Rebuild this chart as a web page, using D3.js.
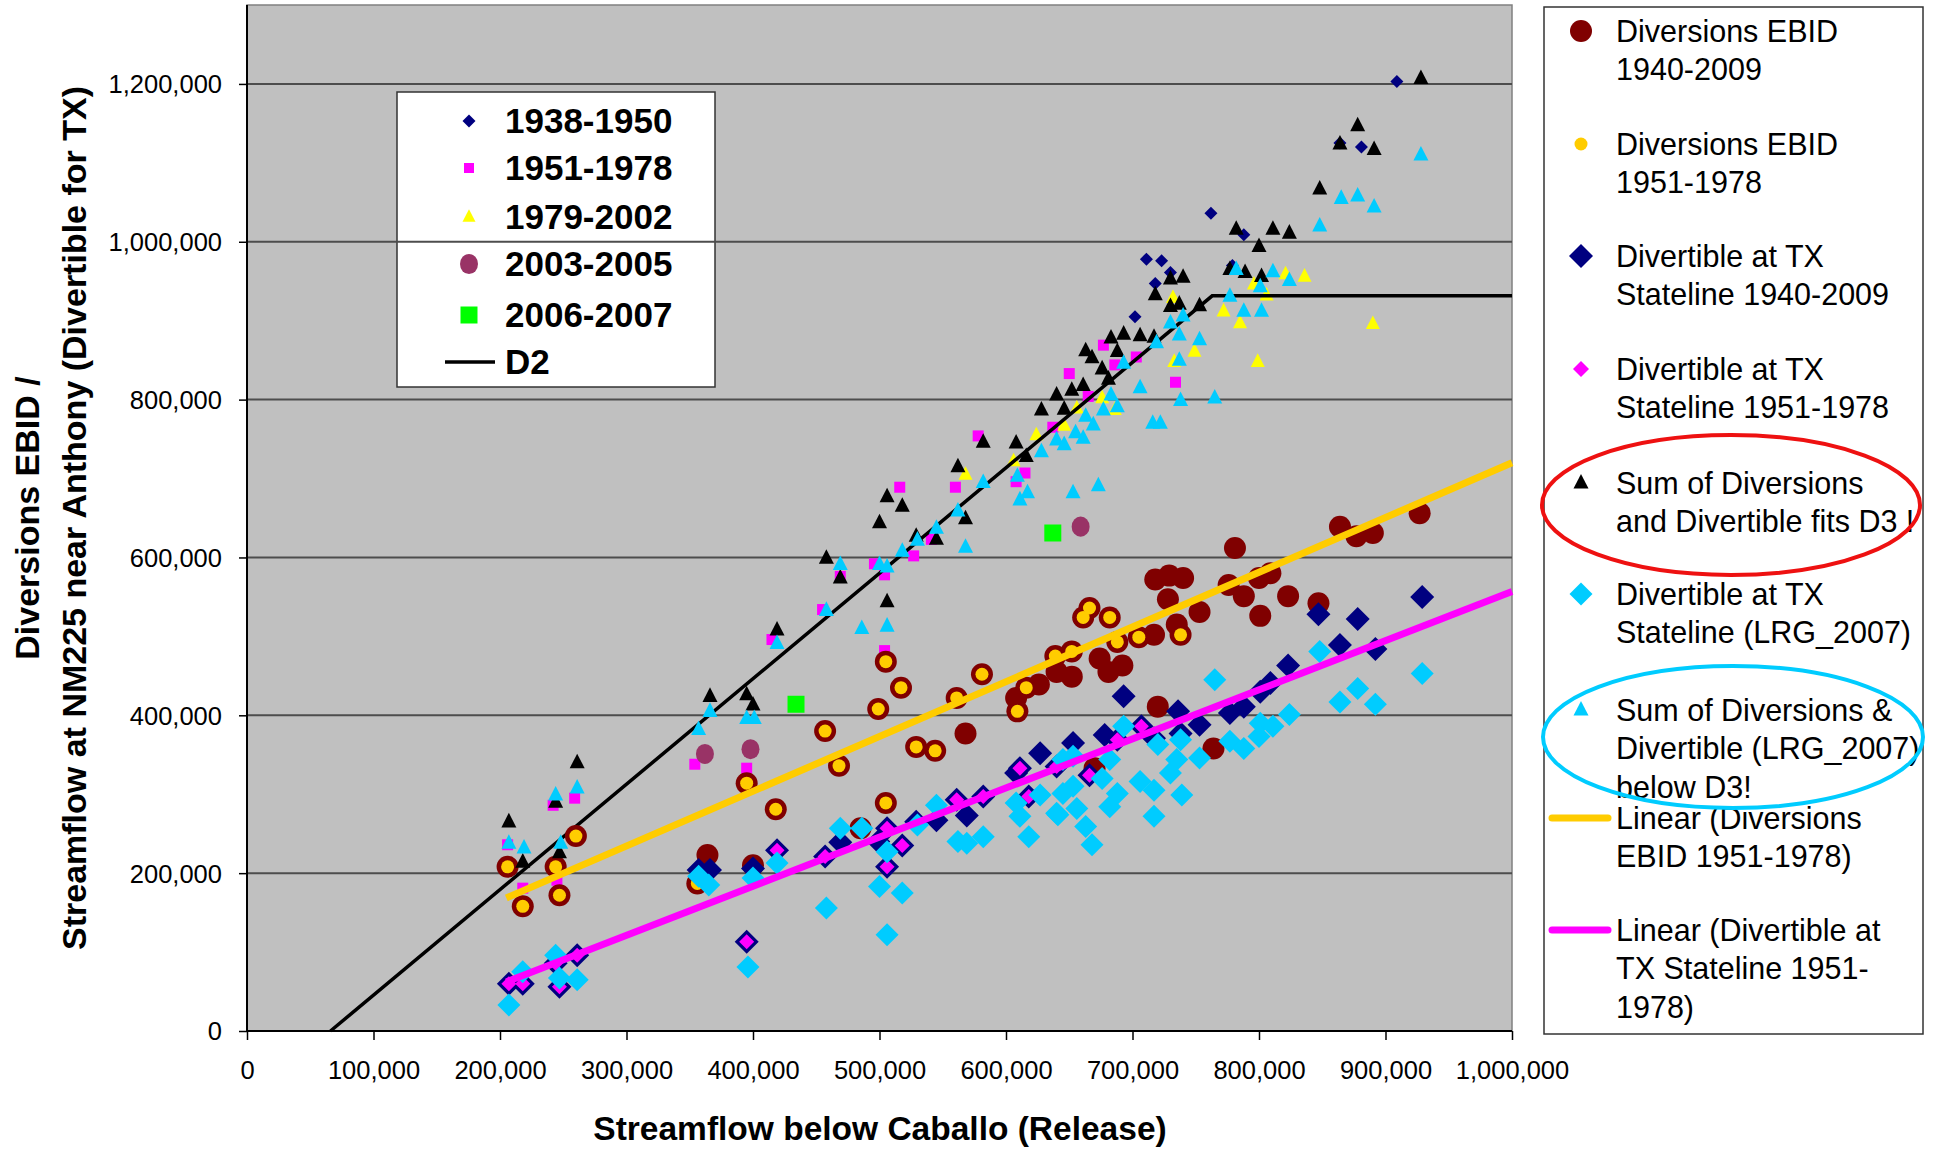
<!DOCTYPE html>
<html>
<head>
<meta charset="utf-8">
<script src="https://cdn.jsdelivr.net/npm/d3@7"></script>
<style>
  body { margin: 0; background: #fff; }
</style>
</head>
<body>
<svg id="chart" width="1937" height="1149"></svg>
<script>
// All values in thousands of acre-feet: [streamflow below Caballo, y value]

// Streamflow at NM225 by period (small markers)
const flow1938to1950 = [[762,1036],[788,1009],[711,978],[723,976],[730,961],[718,947],[702,905],[779,970],[909,1203],[864,1125],[881,1120]];
const flow1951to1978 = [[206,236],[218,181],[242,286],[245,191],[259,295],[354,338],[395,333],[415,496],[455,534],[469,576],[496,592],[504,578],[527,602],[516,689],[560,689],[578,754],[541,623],[608,696],[615,707],[637,765],[650,833],[665,804],[677,869],[686,844],[703,854],[734,822],[504,482]];
const flow1979to2002 = [[568,705],[606,722],[624,755],[646,767],[656,789],[676,802],[686,787],[732,929],[733,848],[749,861],[772,912],[785,897],[796,946],[799,848],[806,932],[821,959],[836,956],[890,896]];
const flow2003to2005 = [[362,351],[398,357],[659,639]];
const flow2006to2007 = [[434,414],[637,631]];
const d2Curve = [[66,0],[763,931.5],[1000,931.5]];

// Diversions EBID
const ebid1951to1978 = [[206,208],[218,158],[244,208],[247,172],[260,247],[356,187],[395,314],[418,281],[457,380],[468,336],[499,408],[505,468],[505,289],[517,435],[529,360],[544,355],[561,422],[581,452],[609,405],[616,435],[639,475],[661,524],[666,536],[682,524],[652,481],[688,493],[705,499],[738,502]];
const ebidOtherYears = [[364,223],[400,210],[485,257],[568,377],[608,422],[626,439],[640,455],[718,572],[729,577],[740,574],[728,547],[735,515],[753,531],[717,502],[776,565],[788,551],[800,574],[809,580],[823,551],[801,526],[847,542],[652,449],[674,472],[681,455],[692,463],[720,411],[764,358],[670,333],[781,612],[864,639],[877,627],[890,631],[927,656]];

// Divertible at TX Stateline
const div1951to1978 = [[207,60],[218,60],[247,56],[261,96],[244,86],[395,113],[419,229],[457,221],[506,257],[518,235],[506,208],[561,293],[582,297],[611,333],[618,297],[640,335],[666,324],[688,369],[707,386]];
const divOtherYears = [[357,204],[366,204],[400,206],[469,239],[499,240],[529,265],[545,267],[569,273],[608,327],[627,352],[653,365],[678,375],[693,424],[717,371],[736,405],[753,388],[738,377],[777,403],[788,411],[801,430],[809,441],[823,463],[847,528],[864,489],[878,522],[892,484],[929,550]];

// Sum of diversions and divertible
const sumDiversions = [[207,265],[218,214],[244,290],[247,226],[261,340],[366,424],[395,426],[400,413],[419,508],[458,599],[469,574],[500,644],[506,677],[518,665],[506,544],[529,627],[545,623],[562,715],[568,649],[582,746],[608,745],[616,728],[628,787],[640,806],[646,788],[652,812],[661,818],[663,862],[668,853],[676,839],[681,826],[683,878],[693,883],[688,861],[706,881],[717,879],[718,933],[730,953],[740,955],[730,918],[737,921],[753,919],[777,965],[789,961],[802,956],[782,1016],[811,1016],[824,1011],[800,994],[848,1067],[878,1147],[864,1124],[891,1117],[928,1207]];

// LRG_2007 model
const lrgDivertible = [[207,33],[218,75],[244,96],[247,67],[261,65],[357,196],[365,185],[400,194],[396,81],[419,213],[458,156],[469,257],[486,257],[500,183],[506,227],[506,122],[518,175],[530,261],[545,286],[562,240],[569,238],[582,246],[608,289],[611,272],[618,246],[627,299],[640,276],[653,348],[645,301],[653,310],[641,274],[656,282],[663,259],[668,236],[676,320],[682,284],[688,301],[682,344],[693,386],[706,316],[717,305],[717,272],[720,363],[730,327],[735,344],[739,299],[738,369],[753,346],[765,445],[777,367],[788,358],[801,390],[811,386],[824,401],[800,373],[848,481],[864,417],[878,434],[892,414],[929,453],[645,344]];
const lrgSum = [[207,238],[219,232],[244,299],[248,238],[261,308],[357,382],[366,405],[395,396],[401,396],[419,491],[458,533],[469,591],[486,510],[506,513],[500,591],[506,588],[518,608],[530,622],[545,637],[562,659],[568,613],[582,695],[609,703],[611,673],[617,682],[628,734],[640,749],[653,682],[673,691],[646,743],[655,758],[661,751],[663,779],[669,768],[677,787],[683,806],[688,791],[693,846],[706,815],[716,770],[722,770],[719,872],[730,897],[737,882],[737,850],[740,906],[738,799],[753,876],[765,802],[777,931],[782,965],[788,912],[801,943],[802,912],[811,962],[824,951],[848,1020],[865,1055],[878,1058],[891,1044],[928,1110]];

// Linear trendlines: [slope, intercept], drawn over trendRange
const trendEbid1951 = [0.6937, 26.3];
const trendDiv1951 = [0.6223, -65.5];
const trendRange = [205, 1000];

const xTicks = d3.range(0, 1001, 100);
const yTicks = d3.range(0, 1201, 200);

const FONT = "'Liberation Sans', Arial, sans-serif";
const svg = d3.select("#chart");
const plot = { left: 247, right: 1512, top: 5, bottom: 1031 };

const x = d3.scaleLinear().domain([0, 1000]).range([plot.left, plot.right]);
const y = d3.scaleLinear().domain([0, 1300]).range([plot.bottom, plot.top]);
const fmt = d => d3.format(",")(d * 1000);

function marker(type, s) {
  if (type === "circle") return `M${-s},0A${s},${s} 0 1,0 ${s},0A${s},${s} 0 1,0 ${-s},0Z`;
  if (type === "ellipse") return `M${-s},0A${s},${s * 1.12} 0 1,0 ${s},0A${s},${s * 1.12} 0 1,0 ${-s},0Z`;
  if (type === "diamond") return `M0,${-s}L${s},0L0,${s}L${-s},0Z`;
  if (type === "square") return `M${-s / 2},${-s / 2}H${s / 2}V${s / 2}H${-s / 2}Z`;
  if (type === "triangle") return `M0,${-s * 0.6}L${s / 2},${s * 0.37}L${-s / 2},${s * 0.37}Z`;
}

// plot background
svg.append("rect")
  .attr("x", plot.left).attr("y", plot.top)
  .attr("width", plot.right - plot.left).attr("height", plot.bottom - plot.top)
  .attr("fill", "#C0C0C0").attr("stroke", "#808080").attr("stroke-width", 1.5);

// inner legend box (gridline runs across it in the original)
const innerBox = { x: 397, y: 92, w: 318, h: 295 };
svg.append("rect")
  .attr("x", innerBox.x).attr("y", innerBox.y).attr("width", innerBox.w).attr("height", innerBox.h)
  .attr("fill", "#fff").attr("stroke", "#333").attr("stroke-width", 1.5);

// gridlines
svg.append("g").selectAll("line")
  .data(yTicks.filter(v => v > 0))
  .join("line")
  .attr("x1", plot.left).attr("x2", plot.right)
  .attr("y1", d => y(d)).attr("y2", d => y(d))
  .attr("stroke", "#4D4D4D").attr("stroke-width", 2);

// axes
const xAxis = svg.append("g")
  .attr("transform", `translate(0,${plot.bottom})`)
  .call(d3.axisBottom(x).tickValues(xTicks).tickSize(9).tickFormat(fmt));
xAxis.attr("font-family", FONT).attr("font-size", 25.5);
xAxis.select(".domain").remove();
xAxis.selectAll(".tick line").attr("stroke", "#000").attr("stroke-width", 1.5);
xAxis.selectAll(".tick text").attr("y", 39).attr("dy", "0.35em").attr("fill", "#000");

const yAxis = svg.append("g")
  .attr("transform", `translate(${plot.left},0)`)
  .call(d3.axisLeft(y).tickValues(yTicks).tickSize(8).tickFormat(fmt));
yAxis.attr("font-family", FONT).attr("font-size", 25.5);
yAxis.select(".domain").remove();
yAxis.selectAll(".tick line").attr("stroke", "#000").attr("stroke-width", 1.5);
yAxis.selectAll(".tick text").attr("x", -25).attr("dy", "0.35em").attr("fill", "#000");

svg.append("line").attr("x1", plot.left).attr("x2", plot.left).attr("y1", plot.top).attr("y2", plot.bottom + 1)
  .attr("stroke", "#000").attr("stroke-width", 2);
svg.append("line").attr("x1", plot.left - 1).attr("x2", plot.right).attr("y1", plot.bottom).attr("y2", plot.bottom)
  .attr("stroke", "#000").attr("stroke-width", 2);

// point layers, bottom to top
function drawPoints(data, shape, size, fill) {
  svg.append("g").selectAll("path")
    .data(data)
    .join("path")
    .attr("d", marker(shape, size))
    .attr("fill", fill)
    .attr("transform", d => `translate(${x(d[0])},${y(d[1])})`);
}

drawPoints(flow1938to1950, "diamond", 6.5, "#000080");
drawPoints(flow1951to1978, "square", 11, "#FF00FF");
drawPoints(flow1979to2002, "triangle", 14, "#FFFF00");
drawPoints(flow2003to2005, "ellipse", 9, "#993366");
drawPoints(flow2006to2007, "square", 17, "#00FF00");

const line = d3.line().x(d => x(d[0])).y(d => y(d[1]));
svg.append("path").datum(d2Curve).attr("d", line)
  .attr("fill", "none").attr("stroke", "#000").attr("stroke-width", 3.5);

drawPoints(ebidOtherYears.concat(ebid1951to1978), "circle", 11, "#800000");
drawPoints(ebid1951to1978, "circle", 6.5, "#FFCC00");
drawPoints(divOtherYears.concat(div1951to1978), "diamond", 12, "#000080");
drawPoints(div1951to1978, "diamond", 7.5, "#FF00FF");
drawPoints(sumDiversions, "triangle", 15, "#000");
drawPoints(lrgDivertible, "diamond", 11.5, "#00CCFF");
drawPoints(lrgSum, "triangle", 15, "#00CCFF");

// trendlines
[[trendEbid1951, "#FFCC00"], [trendDiv1951, "#FF00FF"]].forEach(([t, c]) => {
  const pts = trendRange.map(v => [v, t[0] * v + t[1]]);
  svg.append("path").datum(pts).attr("d", line)
    .attr("fill", "none").attr("stroke", c).attr("stroke-width", 7);
});

// inner legend
const innerLegend = [
  { label: "1938-1950", shape: "diamond", size: 6.5, fill: "#000080" },
  { label: "1951-1978", shape: "square", size: 10, fill: "#FF00FF" },
  { label: "1979-2002", shape: "triangle", size: 13, fill: "#FFFF00" },
  { label: "2003-2005", shape: "ellipse", size: 9, fill: "#993366" },
  { label: "2006-2007", shape: "square", size: 17, fill: "#00FF00" },
  { label: "D2", shape: "line", fill: "#000" }
];
const innerRows = [121, 168, 217, 264, 315, 362];
innerLegend.forEach((d, i) => {
  const g = svg.append("g").attr("transform", `translate(0,${innerRows[i]})`);
  if (d.shape === "line") {
    g.append("line").attr("x1", 445).attr("x2", 495).attr("stroke", d.fill).attr("stroke-width", 3.5);
  } else {
    g.append("path").attr("d", marker(d.shape, d.size)).attr("fill", d.fill).attr("transform", "translate(469,0)");
  }
  g.append("text").attr("x", 505).attr("dy", "0.35em")
    .attr("font-family", FONT).attr("font-size", 35).attr("font-weight", "bold")
    .text(d.label);
});

// right legend
svg.append("rect").attr("x", 1544).attr("y", 7).attr("width", 379).attr("height", 1027)
  .attr("fill", "#fff").attr("stroke", "#333").attr("stroke-width", 1.5);

const rightLegend = [
  { lines: ["Diversions EBID", "1940-2009"], y: 31, shape: "circle", size: 11, fill: "#800000" },
  { lines: ["Diversions EBID", "1951-1978"], y: 144, shape: "circle", size: 6.5, fill: "#FFCC00" },
  { lines: ["Divertible at TX", "Stateline 1940-2009"], y: 256, shape: "diamond", size: 12, fill: "#000080" },
  { lines: ["Divertible at TX", "Stateline 1951-1978"], y: 369, shape: "diamond", size: 8, fill: "#FF00FF" },
  { lines: ["Sum of Diversions", "and Divertible fits D3 !"], y: 483, shape: "triangle", size: 15, fill: "#000" },
  { lines: ["Divertible at TX", "Stateline (LRG_2007)"], y: 594, shape: "diamond", size: 11.5, fill: "#00CCFF" },
  { lines: ["Sum of Diversions &", "Divertible (LRG_2007)", "below D3!"], y: 710, shape: "triangle", size: 15, fill: "#00CCFF" },
  { lines: ["Linear (Diversions", "EBID 1951-1978)"], y: 818, shape: "line", fill: "#FFCC00" },
  { lines: ["Linear (Divertible at", "TX Stateline 1951-", "1978)"], y: 930, shape: "line", fill: "#FF00FF" }
];
rightLegend.forEach(d => {
  const g = svg.append("g").attr("transform", `translate(0,${d.y})`);
  if (d.shape === "line") {
    g.append("line").attr("x1", 1552).attr("x2", 1608).attr("stroke", d.fill)
      .attr("stroke-width", 7).attr("stroke-linecap", "round");
  } else {
    g.append("path").attr("d", marker(d.shape, d.size)).attr("fill", d.fill).attr("transform", "translate(1581,0)");
  }
  g.selectAll("text").data(d.lines).join("text")
    .attr("x", 1616).attr("y", (t, i) => i * 38.7).attr("dy", "0.35em")
    .attr("font-family", FONT).attr("font-size", 30.5).text(t => t);
});

// highlight ellipses
svg.append("ellipse").attr("cx", 1731).attr("cy", 505).attr("rx", 189).attr("ry", 70)
  .attr("fill", "none").attr("stroke", "#EE1111").attr("stroke-width", 4);
svg.append("ellipse").attr("cx", 1733).attr("cy", 737).attr("rx", 190).attr("ry", 71)
  .attr("fill", "none").attr("stroke", "#00CCFF").attr("stroke-width", 4);

// axis titles
svg.append("text").attr("x", 880).attr("y", 1128).attr("dy", "0.35em")
  .attr("text-anchor", "middle").attr("font-family", FONT).attr("font-size", 33.5).attr("font-weight", "bold")
  .text("Streamflow below Caballo (Release)");

const yTitle = svg.append("g").attr("transform", "translate(0,518) rotate(-90)");
yTitle.append("text").attr("x", 0).attr("y", 27).attr("dy", "0.35em")
  .attr("text-anchor", "middle").attr("font-family", FONT).attr("font-size", 34).attr("font-weight", "bold")
  .text("Diversions EBID /");
yTitle.append("text").attr("x", 0).attr("y", 74).attr("dy", "0.35em")
  .attr("text-anchor", "middle").attr("font-family", FONT).attr("font-size", 34).attr("font-weight", "bold")
  .text("Streamflow at NM225 near Anthony (Divertible for TX)");
</script>
</body>
</html>
